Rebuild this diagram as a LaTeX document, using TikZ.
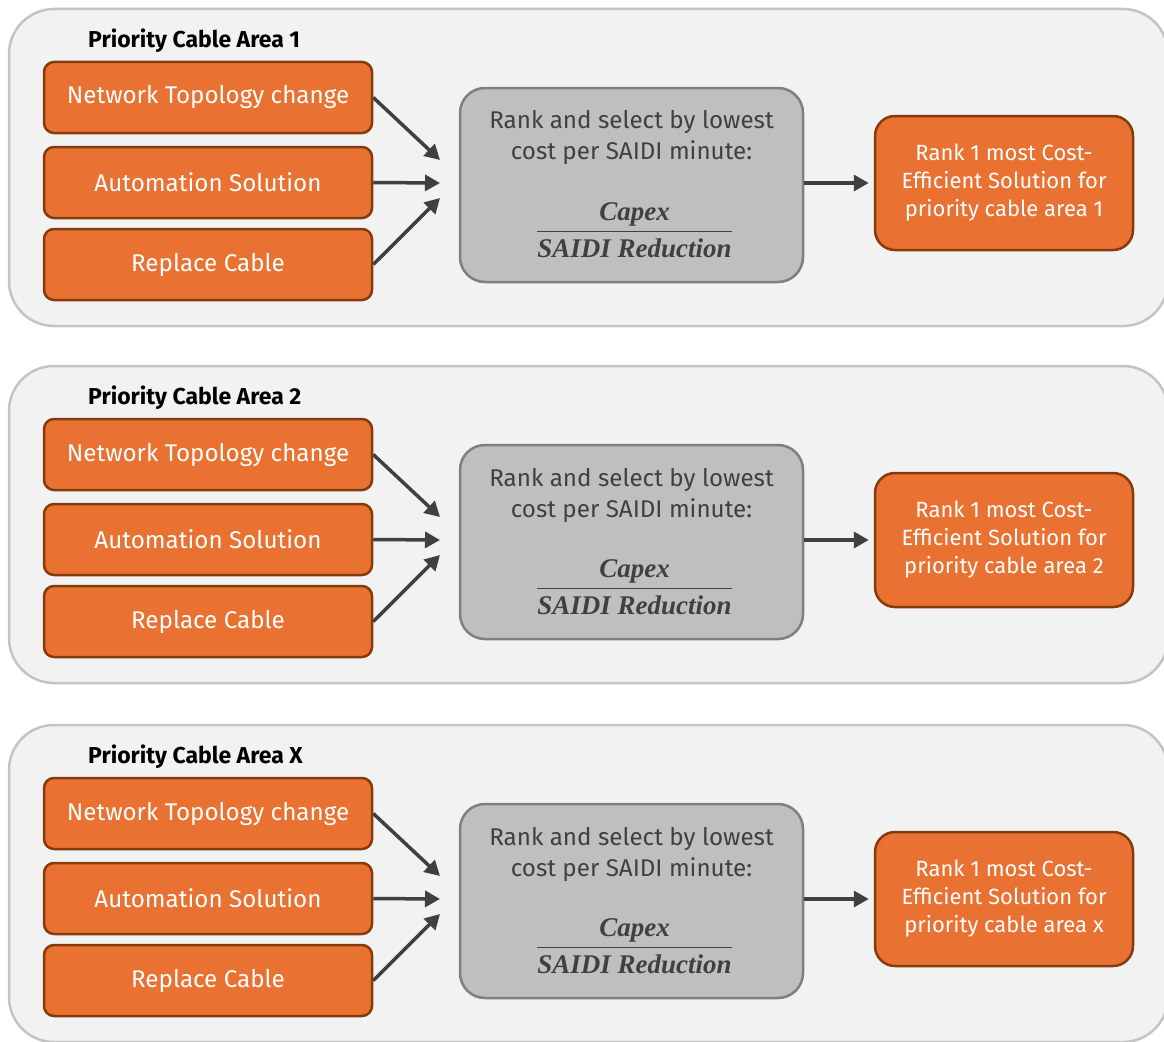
\documentclass[tikz,border=0pt]{standalone}
\usepackage{fontspec}
\setmainfont{Fira Sans}
\newfontfamily\fracfont{Liberation Serif}
\usetikzlibrary{arrows.meta}
\definecolor{orangefill}{HTML}{E97132}
\definecolor{orangeline}{HTML}{843C0C}
\definecolor{grayfill}{HTML}{BFBFBF}
\definecolor{grayline}{HTML}{7F7F7F}
\definecolor{panelfill}{HTML}{F2F2F2}
\definecolor{panelline}{HTML}{C4C4C4}
\definecolor{arrowcol}{HTML}{404040}
\definecolor{graytext}{HTML}{404040}
\begin{document}
\begin{tikzpicture}[x=1pt,y=-1pt,
  panel/.style={draw=panelline, fill=panelfill, line width=2.5pt, rounded corners=45pt},
  optbox/.style={draw=orangeline, fill=orangefill, line width=2.5pt, rounded corners=10pt,
    minimum width=328pt, minimum height=71pt, text=white, inner sep=0pt,
    font=\fontsize{24.2}{28}\selectfont},
  rankbox/.style={draw=grayline, fill=grayfill, line width=2.5pt, rounded corners=25pt,
    minimum width=343pt, minimum height=194pt, inner sep=0pt},
  resbox/.style={draw=orangeline, fill=orangefill, line width=2.5pt, rounded corners=20pt,
    minimum width=258pt, minimum height=134pt, text=white, inner sep=0pt, align=center,
    font=\fontsize{22}{28}\selectfont},
  ranktext/.style={text=graytext, align=center, inner sep=0pt, font=\fontsize{24.2}{31}\selectfont},
  fractext/.style={text=graytext, inner sep=0pt, font=\fracfont\bfseries\itshape\fontsize{27}{30}\selectfont},
  title/.style={anchor=west, inner sep=0pt, font=\bfseries\fontsize{23}{26}\selectfont},
  arr/.style={draw=arrowcol, line width=3.5pt, -{Triangle[length=15pt,width=16pt]}}
]
\useasboundingbox (0,0) rectangle (1164,1041);
\fill[white] (0,0) rectangle (1164,1041);
\foreach \oy/\lbl/\res in {0/1/1, 357/2/2, 716/X/x}{
  \draw[panel] (9,9+\oy) rectangle (1168,326+\oy);
  \node[title] (title\lbl) at (88,41+\oy) {Priority Cable Area \lbl};
  \node[optbox] (net\lbl) at (208,97.5+\oy) {Network Topology change};
  \node[optbox] (aut\lbl) at (208,182.5+\oy) {Automation Solution};
  \node[optbox] (rep\lbl) at (208,264.5+\oy) {Replace Cable};
  \node[rankbox] (rank\lbl) at (631.5,185+\oy) {};
  \node[ranktext] (rt\lbl) at (631.5,138+\oy) {Rank and select by lowest\\cost per SAIDI minute:};
  \node[fractext] (fr\lbl) at (634.5,233+\oy) {\setlength\arrayrulewidth{1.8pt}\renewcommand\arraystretch{1}\begin{tabular}{@{}c@{}}Capex\\[1pt]\hline\rule{0pt}{25pt}SAIDI Reduction\end{tabular}};
  \node[resbox] (res\lbl) at (1004,183+\oy) {Rank 1 most Cost-\\Efficient Solution for\\priority cable area \res};
  \coordinate (inA\lbl) at (440,160+\oy);
  \coordinate (inB\lbl) at (440,183+\oy);
  \coordinate (inC\lbl) at (440,198+\oy);
  \draw[arr] (net\lbl.east) -- (inA\lbl);
  \draw[arr] (aut\lbl.east) -- (inB\lbl);
  \draw[arr] (rep\lbl.east) -- (inC\lbl);
  \draw[arr, shorten >=5pt] (rank\lbl.east |- res\lbl.west) -- (res\lbl.west);
}
\end{tikzpicture}
\end{document}
